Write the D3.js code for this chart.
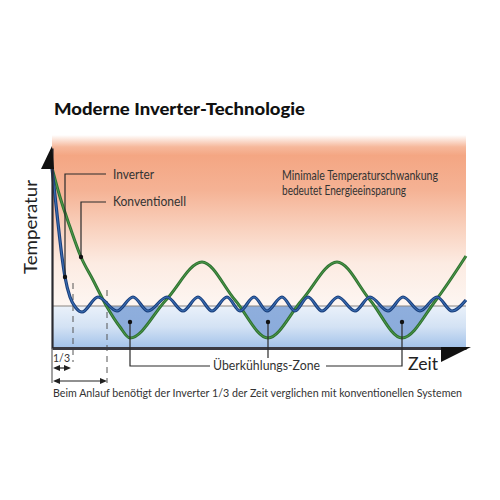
<!DOCTYPE html>
<html><head><meta charset="utf-8">
<script src="https://cdn.jsdelivr.net/npm/d3@7"></script>
<style>body{margin:0;background:#fff} svg{display:block} text{font-family:Lato,"Noto Sans",sans-serif}</style>
</head><body><svg id="c" width="500" height="500"></svg>
<script>
// ---- data (time units, temperature units) ----
const inverterT = [0, 6, 10, 13, 18, 24, 30, 46, 65, 81, 96, 115, 131, 146, 160, 175, 188, 202, 215, 230, 243, 256, 270, 286, 303, 318, 336, 351, 368, 385, 400, 414];
const inverterV = [180, 125, 91, 71, 51, 40, 36, 51, 37, 51, 37, 51, 37, 51, 37, 51, 37, 51, 37, 51, 37, 51, 37, 51, 37, 51, 37, 51, 37, 51, 37, 48];
const conventionalT = [0, 8, 18, 29, 41, 55, 68, 78, 114, 150, 183, 216, 250, 285, 318, 350, 384, 414];
const conventionalV = [180, 151, 121, 91, 68, 41, 21, 10, 48, 86, 48, 10, 48, 86, 48, 10, 48, 92];
const setpoint = 42;
const startupTimes = [21, 55];          // inverter, conventional reach setpoint
const overcoolMarkerT = [78, 216, 350];
const overcoolMarkerV = 26;
const inverterMarkerIdx = 3;
const conventionalMarkerIdx = 3;
const labels = {
  title: "Moderne Inverter-Technologie",
  yAxis: "Temperatur",
  xAxis: "Zeit",
  inverter: "Inverter",
  conventional: "Konventionell",
  note1: "Minimale Temperaturschwankung",
  note2: "bedeutet Energieeinsparung",
  zone: "Überkühlungs-Zone",
  third: "1/3",
  caption: "Beim Anlauf benötigt der Inverter 1/3 der Zeit verglichen mit konventionellen Systemen"
};

const svg = d3.select("#c");
const x = d3.scaleLinear().domain([0, 414]).range([52, 466]);
const y = d3.scaleLinear().domain([0, 200]).range([348, 148]);
const inv = inverterT.map((t, i) => [t, inverterV[i]]);
const conv = conventionalT.map((t, i) => [t, conventionalV[i]]);

const defs = svg.append("defs");
const gWarm = defs.append("linearGradient").attr("id", "warm").attr("x1", 0).attr("x2", 0).attr("y1", 0).attr("y2", 1);
[[0, "#ffffff"], [0.07, "#f6b89b"], [0.12, "#f4a683"], [0.32, "#f5b294"], [0.55, "#f9d2bf"], [0.75, "#fcebe2"], [1, "#fdf6f2"]]
  .forEach(([o, c]) => gWarm.append("stop").attr("offset", o).attr("stop-color", c));
const gCool = defs.append("linearGradient").attr("id", "cool").attr("x1", 0).attr("x2", 0).attr("y1", 0).attr("y2", 1);
[[0, "#eaf1fa"], [0.5, "#d3e2f4"], [1, "#a2c2ea"]]
  .forEach(([o, c]) => gCool.append("stop").attr("offset", o).attr("stop-color", c));
const gZone = defs.append("linearGradient").attr("id", "zone").attr("x1", 0).attr("x2", 0).attr("y1", 0).attr("y2", 1);
[[0, "#b3c9ea"], [0.6, "#94b2de"], [1, "#8aabdb"]]
  .forEach(([o, c]) => gZone.append("stop").attr("offset", o).attr("stop-color", c));
defs.append("clipPath").attr("id", "below")
  .append("rect").attr("x", x(0)).attr("y", y(setpoint)).attr("width", x(414) - x(0)).attr("height", y(0) - y(setpoint));

// backgrounds
svg.append("rect").attr("x", x(0)).attr("y", 135).attr("width", x(414) - x(0)).attr("height", y(setpoint) - 135).attr("fill", "url(#warm)");
svg.append("rect").attr("x", x(0)).attr("y", y(setpoint)).attr("width", x(414) - x(0)).attr("height", y(0) - y(setpoint)).attr("fill", "url(#cool)");

// over-cooling zone
const curve = d3.curveMonotoneX;
svg.append("path").datum(conv).attr("clip-path", "url(#below)")
  .attr("d", d3.area().curve(curve).x(d => x(d[0])).y0(y(setpoint)).y1(d => y(d[1])))
  .attr("fill", "url(#zone)");

// setpoint line
svg.append("line").attr("x1", x(0)).attr("x2", x(414)).attr("y1", y(setpoint)).attr("y2", y(setpoint))
  .attr("stroke", "#8a8580").attr("stroke-width", 1);

// dashed start-up lines
svg.selectAll(".dash").data(startupTimes).join("line")
  .attr("x1", d => x(d)).attr("x2", d => x(d))
  .attr("y1", (d, i) => i === 0 ? 283 : 290).attr("y2", (d, i) => i === 0 ? 362 : 383)
  .attr("stroke", "#555").attr("stroke-width", 1).attr("stroke-dasharray", "6,5");

// curves
const line = d3.line().curve(curve).x(d => x(d[0])).y(d => y(d[1]));
svg.append("path").datum(conv).attr("d", line).attr("fill", "none").attr("stroke", "#2f7232").attr("stroke-width", 3);
svg.append("path").datum(conv).attr("d", line).attr("fill", "none").attr("stroke", "#4f9c4a").attr("stroke-width", 1);
svg.append("path").datum(inv).attr("d", line).attr("fill", "none").attr("stroke", "#1a3f7c").attr("stroke-width", 3.2);
svg.append("path").datum(inv).attr("d", line).attr("fill", "none").attr("stroke", "#3b6fb4").attr("stroke-width", 1.1);

// axes
const xAxis = svg.append("g").attr("transform", `translate(0,${y(0)})`)
  .call(d3.axisBottom(x).tickValues([]).tickSizeOuter(0));
xAxis.select(".domain").attr("stroke", "#3a3a42").attr("stroke-width", 3);
const yAxis = svg.append("g").attr("transform", `translate(${x(0)},0)`)
  .call(d3.axisLeft(y).tickValues([]).tickSizeOuter(0));
yAxis.select(".domain").attr("stroke", "#2a2a30").attr("stroke-width", 2.2);
svg.append("path").attr("d", `M${x(0) - 11},169 L${x(0)},146 L${x(0) + 2},169 Z`).attr("fill", "#111");
svg.append("path").attr("d", `M441,347 L471,347 L441,362 Z`).attr("fill", "#111");

// legend leaders
const ink = "#2a2a2a";
function leader(px, py, lx, ly) {
  svg.append("path").attr("d", `M${px},${py} L${px},${ly} L${lx},${ly}`).attr("fill", "none").attr("stroke", ink).attr("stroke-width", 1.2);
  svg.append("circle").attr("cx", px).attr("cy", py).attr("r", 2.2).attr("fill", "#111");
}
leader(x(inv[inverterMarkerIdx][0]), y(inv[inverterMarkerIdx][1]), 106, 174);
leader(x(conv[conventionalMarkerIdx][0]), y(conv[conventionalMarkerIdx][1]), 106, 202);

// zone leaders
const zy = 366;
const [m1, m2, m3] = overcoolMarkerT.map(t => x(t));
svg.append("path").attr("d", `M${m1},${y(overcoolMarkerV)} L${m1},${zy} L210,${zy}`).attr("fill", "none").attr("stroke", ink).attr("stroke-width", 1.2);
svg.append("path").attr("d", `M${m2},${y(overcoolMarkerV)} L${m2},358`).attr("fill", "none").attr("stroke", ink).attr("stroke-width", 1.2);
svg.append("path").attr("d", `M326,${zy} L${m3},${zy} L${m3},${y(overcoolMarkerV)}`).attr("fill", "none").attr("stroke", ink).attr("stroke-width", 1.2);
svg.selectAll(".zd").data(overcoolMarkerT).join("circle").attr("cx", d => x(d)).attr("cy", y(overcoolMarkerV)).attr("r", 2.2).attr("fill", "#111");

// 1/3 brackets
svg.append("line").attr("x1", x(0)).attr("x2", x(0)).attr("y1", y(0)).attr("y2", 383).attr("stroke", "#444").attr("stroke-width", 1);
function dblArrow(x1, x2, yy) {
  svg.append("line").attr("x1", x1 + 4).attr("x2", x2 - 4).attr("y1", yy).attr("y2", yy).attr("stroke", "#222").attr("stroke-width", 1.2);
  svg.append("path").attr("d", `M${x1},${yy} L${x1 + 7},${yy - 3} L${x1 + 7},${yy + 3} Z`).attr("fill", "#222");
  svg.append("path").attr("d", `M${x2},${yy} L${x2 - 7},${yy - 3} L${x2 - 7},${yy + 3} Z`).attr("fill", "#222");
}
dblArrow(x(0) + 1, x(startupTimes[0]) - 2, 368);
dblArrow(x(0) + 1, x(startupTimes[1]), 381);

// texts
svg.append("text").attr("x", 54).attr("y", 115).attr("font-size", 17).attr("font-weight", 900).attr("fill", "#111")
  .attr("textLength", 251).attr("lengthAdjust", "spacingAndGlyphs").text(labels.title);
svg.append("text").attr("transform", "translate(37,227) rotate(-90)").attr("text-anchor", "middle")
  .attr("font-size", 18).attr("fill", "#222").attr("textLength", 94).attr("lengthAdjust", "spacingAndGlyphs").text(labels.yAxis);
svg.append("text").attr("x", 408).attr("y", 370).attr("font-size", 17).attr("fill", "#222")
  .attr("textLength", 30).attr("lengthAdjust", "spacingAndGlyphs").text(labels.xAxis);
svg.append("text").attr("x", 113).attr("y", 179).attr("font-size", 12.5).attr("fill", "#333")
  .attr("textLength", 41).attr("lengthAdjust", "spacingAndGlyphs").text(labels.inverter);
svg.append("text").attr("x", 113).attr("y", 206).attr("font-size", 12.5).attr("fill", "#333")
  .attr("textLength", 73).attr("lengthAdjust", "spacingAndGlyphs").text(labels.conventional);
svg.append("text").attr("x", 282).attr("y", 180).attr("font-size", 12.5).attr("fill", "#333")
  .attr("textLength", 156).attr("lengthAdjust", "spacingAndGlyphs").text(labels.note1);
svg.append("text").attr("x", 282).attr("y", 195).attr("font-size", 12.5).attr("fill", "#333")
  .attr("textLength", 124).attr("lengthAdjust", "spacingAndGlyphs").text(labels.note2);
svg.append("text").attr("x", 213).attr("y", 370).attr("font-size", 12.5).attr("fill", "#333")
  .attr("textLength", 107).attr("lengthAdjust", "spacingAndGlyphs").text(labels.zone);
svg.append("text").attr("x", 53).attr("y", 362).attr("font-size", 11.5).attr("fill", "#333")
  .attr("textLength", 17).attr("lengthAdjust", "spacingAndGlyphs").text(labels.third);
svg.append("text").attr("x", 53).attr("y", 397).attr("font-size", 11).attr("fill", "#333")
  .attr("textLength", 409).attr("lengthAdjust", "spacingAndGlyphs").text(labels.caption);
</script></body></html>
